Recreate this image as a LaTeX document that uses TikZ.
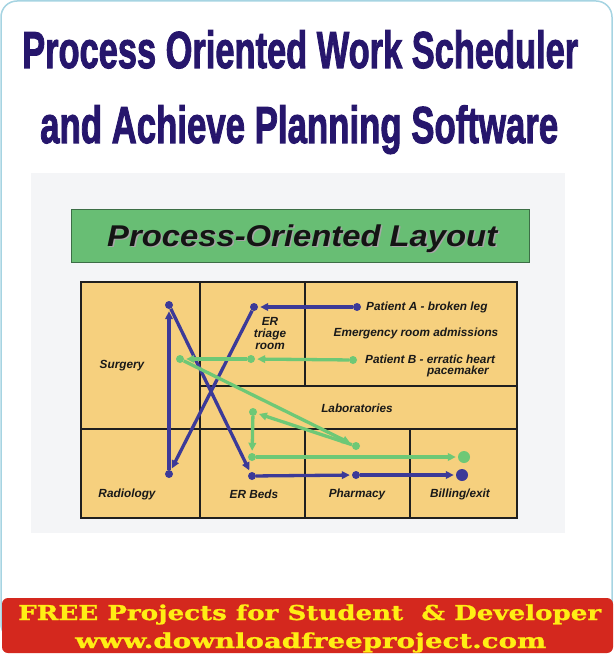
\documentclass[tikz,border=0pt]{standalone}
\usepackage{fontspec}
\usepackage{graphicx}
\usetikzlibrary{arrows.meta}
\setmainfont{Liberation Sans}
\newfontfamily\titlefont[FakeBold=2.2]{Liberation Sans Bold}
\newfontfamily\bannerfont[FakeBold=1]{DejaVu Serif Bold}
\definecolor{navy}{RGB}{38,22,108}
\definecolor{framebl}{RGB}{166,212,226}
\definecolor{panelgray}{RGB}{244,245,247}
\definecolor{titlegreen}{RGB}{104,190,116}
\definecolor{titleborder}{RGB}{60,110,70}
\definecolor{cellfill}{RGB}{246,208,126}
\definecolor{pathblue}{RGB}{60,58,152}
\definecolor{pathgreen}{RGB}{110,200,118}
\definecolor{bannerred}{RGB}{212,40,30}
\definecolor{banneryellow}{RGB}{255,238,20}
\tikzset{
  lbl/.style={font=\fontsize{11.8}{13}\selectfont\bfseries\itshape, text=black!90, inner sep=0pt},
  gridline/.style={line width=2pt, draw=black!88},
  bdot/.style={circle, fill=pathblue, inner sep=0pt, minimum size=8pt},
  gdot/.style={circle, fill=pathgreen, inner sep=0pt, minimum size=8pt},
  bbig/.style={bdot, minimum size=12pt},
  gbig/.style={gdot, minimum size=12pt},
  bline/.style={draw=pathblue, line width=3.3pt, -{Triangle[length=8pt,width=7.5pt]}, shorten >=2pt},
  gline/.style={draw=pathgreen, line width=3.3pt, -{Triangle[length=8pt,width=7.5pt]}, shorten >=2pt},
}
\begin{document}
\begin{tikzpicture}[x=1pt,y=-1pt]
\useasboundingbox (0,0) rectangle (614,655);
\fill[white] (0,0) rectangle (614,655);
% outer frame
\draw[framebl, line width=1.5pt, rounded corners=16pt] (1,1) rectangle (612,640);
% title
\node[anchor=base west, inner sep=0pt, text=navy] (t1) at (22,68)
  {\resizebox{556pt}{\height}{\fontsize{52}{55}\selectfont\titlefont Process Oriented Work Scheduler}};
\node[anchor=base west, inner sep=0pt, text=navy] (t2) at (40,143)
  {\resizebox{518pt}{\height}{\fontsize{52}{55}\selectfont\titlefont and Achieve Planning Software}};
% panel
\fill[panelgray] (31,173) rectangle (565,533);
% green title box
\draw[fill=titlegreen, draw=titleborder, line width=0.8pt] (71,209) rectangle (529,262);
\node[anchor=base west, inner sep=0pt, text=black!35] (lts) at (108.5,247.5)
  {\resizebox{390pt}{\height}{\fontsize{30}{32}\selectfont\bfseries\itshape Process-Oriented Layout}};
\node[anchor=base west, inner sep=0pt, text=black!92] (lt) at (107,246)
  {\resizebox{390pt}{\height}{\fontsize{30}{32}\selectfont\bfseries\itshape Process-Oriented Layout}};
% layout grid
\fill[cellfill] (81,282) rectangle (517,518);
\draw[gridline] (81,282) rectangle (517,518);
\draw[gridline] (200,282) -- (200,518);
\draw[gridline] (81,429) -- (517,429);
\draw[gridline] (200,386) -- (517,386);
\draw[gridline] (305,282) -- (305,386);
\draw[gridline] (305,429) -- (305,518);
\draw[gridline] (410,429) -- (410,518);
% labels
\node[lbl] (surg) at (122,366) {Surgery};
\node[lbl] (radi) at (127,494) {Radiology};
\node[lbl, align=center, font=\fontsize{11.8}{12}\selectfont\bfseries\itshape] (tri) at (270,333) {ER\\triage\\room};
\node[lbl] (beds) at (254,494) {ER Beds};
\node[lbl, anchor=west] (lpa) at (366,307) {Patient A - broken leg};
\node[lbl] (adm) at (416,333) {Emergency room admissions};
\node[lbl, anchor=west] (lpb) at (365,359) {Patient B - erratic heart};
\node[lbl, anchor=east] (lpm) at (489,371) {pacemaker};
\node[lbl] (lab) at (357,408) {Laboratories};
\node[lbl] (phar) at (357,494) {Pharmacy};
\node[lbl] (bill) at (460,494) {Billing/exit};
% blue path (patient A)
\node[bdot] (pA) at (357,307) {};
\node[bdot] (bT) at (254,307) {};
\node[bdot] (bR) at (169,474) {};
\node[bdot] (bS) at (169,305) {};
\node[bdot] (bE) at (252,476) {};
\node[bdot] (bP) at (356,475) {};
\node[bbig] (bB) at (462,475) {};
\draw[bline] (pA) -- (bT);
\draw[bline] (bT) -- (bR);
\draw[bline] (bR) -- (bS);
\draw[bline] (bS) -- (bE);
\draw[bline] (bE) -- (bP);
\draw[bline] (bP) -- (bB);
% green path (patient B)
\node[gdot] (pB) at (353,360) {};
\node[gdot] (gT) at (251,359) {};
\node[gdot] (gS) at (180,359) {};
\node[gdot] (gL) at (356,446) {};
\node[gdot] (gM) at (253,412) {};
\node[gdot] (gE) at (252,457) {};
\node[gbig] (gB) at (464,457) {};
\draw[gline] (pB) -- (gT);
\draw[gline] (gT) -- (gS);
\draw[gline] (gS) -- (gL);
\draw[gline] (gL) -- (gM);
\draw[gline] (gM) -- (gE);
\draw[gline] (gE) -- (gB);
% banner
\fill[bannerred, rounded corners=6pt] (2,598) rectangle (613,653);
\node[anchor=base west, inner sep=0pt, text=banneryellow] (b1) at (18,620)
  {\resizebox{583pt}{\height}{\fontsize{20.5}{22}\selectfont\bannerfont FREE Projects for Student~~\& Developer}};
\node[anchor=base west, inner sep=0pt, text=banneryellow] (b2) at (75,648)
  {\resizebox{471pt}{\height}{\fontsize{20.5}{22}\selectfont\bannerfont www.downloadfreeproject.com}};
\end{tikzpicture}
\end{document}
